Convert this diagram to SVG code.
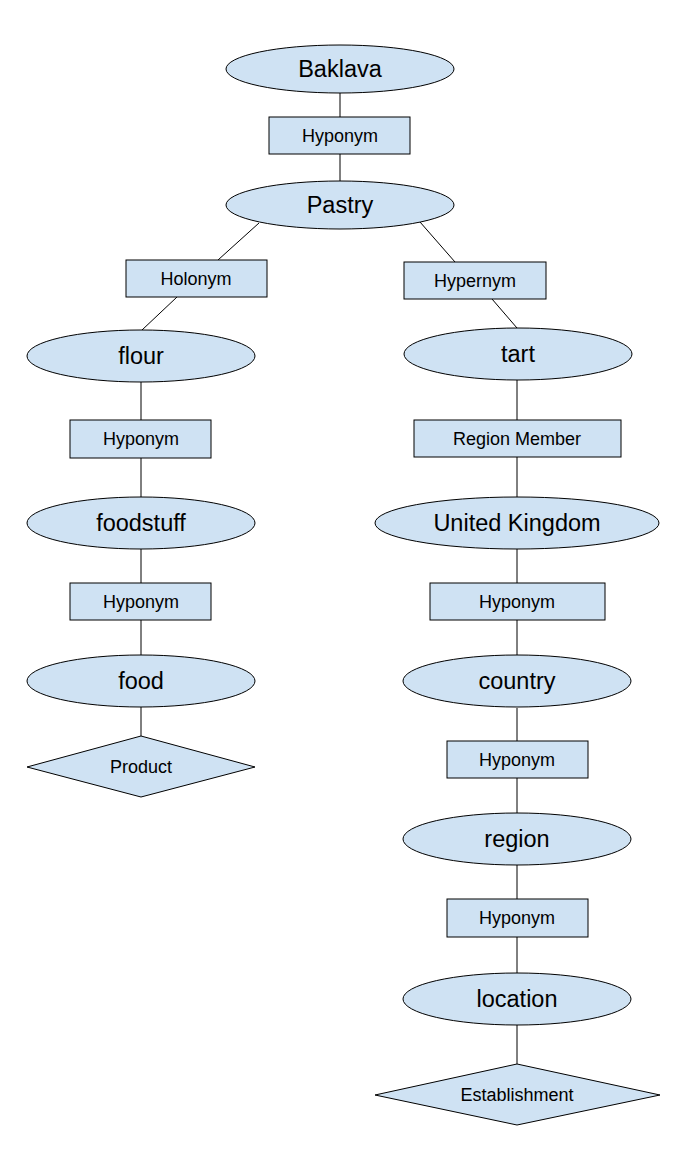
<svg xmlns="http://www.w3.org/2000/svg" width="694" height="1149" viewBox="0 0 694 1149">
<style>
.n{fill:#cfe2f3;stroke:#000;stroke-width:1}
.e{font-family:"Liberation Sans",Arial,sans-serif;font-size:23.5px;fill:#000;text-anchor:middle}
.r{font-family:"Liberation Sans",Arial,sans-serif;font-size:18px;fill:#000;text-anchor:middle}
.c line{stroke:#000;stroke-width:1}
</style>
<rect width="694" height="1149" fill="#fff"/>
<g class="c" id="connectors">
<line x1="340" y1="93" x2="340" y2="117"/>
<line x1="340" y1="154" x2="340" y2="181"/>
<line x1="259" y1="223" x2="218" y2="260"/>
<line x1="177" y1="297" x2="142" y2="330"/>
<line x1="420" y1="222" x2="455" y2="262"/>
<line x1="492" y1="299" x2="517" y2="328"/>
<line x1="141" y1="382" x2="141" y2="420"/>
<line x1="141" y1="458" x2="141" y2="497"/>
<line x1="141" y1="549" x2="141" y2="583"/>
<line x1="141" y1="620" x2="141" y2="655"/>
<line x1="141" y1="707" x2="141" y2="736"/>
<line x1="517" y1="380" x2="517" y2="420"/>
<line x1="517" y1="457" x2="517" y2="497"/>
<line x1="517" y1="549" x2="517" y2="583"/>
<line x1="517" y1="620" x2="517" y2="655"/>
<line x1="517" y1="708" x2="517" y2="741"/>
<line x1="517" y1="778" x2="517" y2="813"/>
<line x1="517" y1="865" x2="517" y2="899"/>
<line x1="517" y1="937" x2="517" y2="973"/>
<line x1="517" y1="1025" x2="517" y2="1064"/>
</g>
<g id="baklava"><ellipse class="n" cx="340" cy="69" rx="114" ry="24"/><text class="e" x="340" y="77">Baklava</text></g>
<g id="rel-hyponym-1"><rect class="n" x="269" y="117" width="141" height="37"/><text class="r" x="340" y="142">Hyponym</text></g>
<g id="pastry"><ellipse class="n" cx="340" cy="205" rx="114" ry="24"/><text class="e" x="340" y="213">Pastry</text></g>
<g id="rel-holonym"><rect class="n" x="126" y="260" width="141" height="37"/><text class="r" x="196" y="285">Holonym</text></g>
<g id="rel-hypernym"><rect class="n" x="404" y="262" width="142" height="37"/><text class="r" x="475" y="287">Hypernym</text></g>
<g id="flour"><ellipse class="n" cx="141" cy="356" rx="114" ry="26"/><text class="e" x="141" y="364">flour</text></g>
<g id="tart"><ellipse class="n" cx="518" cy="354" rx="114" ry="26"/><text class="e" x="518" y="362">tart</text></g>
<g id="rel-hyponym-2"><rect class="n" x="70" y="420" width="141" height="38"/><text class="r" x="141" y="445">Hyponym</text></g>
<g id="foodstuff"><ellipse class="n" cx="141" cy="523" rx="114" ry="26"/><text class="e" x="141" y="531">foodstuff</text></g>
<g id="rel-hyponym-3"><rect class="n" x="70" y="583" width="141" height="37"/><text class="r" x="141" y="608">Hyponym</text></g>
<g id="food"><ellipse class="n" cx="141" cy="681" rx="114" ry="26"/><text class="e" x="141" y="689">food</text></g>
<g id="product"><polygon class="n" points="141,736 255,767 141,797 27,767"/><text class="r" x="141" y="773">Product</text></g>
<g id="rel-region-member"><rect class="n" x="414" y="420" width="207" height="37"/><text class="r" x="517" y="445">Region Member</text></g>
<g id="united-kingdom"><ellipse class="n" cx="517" cy="523" rx="142" ry="26"/><text class="e" x="517" y="531">United Kingdom</text></g>
<g id="rel-hyponym-4"><rect class="n" x="430" y="583" width="175" height="37"/><text class="r" x="517" y="608">Hyponym</text></g>
<g id="country"><ellipse class="n" cx="517" cy="681" rx="114" ry="26"/><text class="e" x="517" y="689">country</text></g>
<g id="rel-hyponym-5"><rect class="n" x="447" y="741" width="141" height="37"/><text class="r" x="517" y="766">Hyponym</text></g>
<g id="region"><ellipse class="n" cx="517" cy="839" rx="114" ry="26"/><text class="e" x="517" y="847">region</text></g>
<g id="rel-hyponym-6"><rect class="n" x="447" y="899" width="141" height="38"/><text class="r" x="517" y="924">Hyponym</text></g>
<g id="location"><ellipse class="n" cx="517" cy="999" rx="114" ry="26"/><text class="e" x="517" y="1007">location</text></g>
<g id="establishment"><polygon class="n" points="517,1064 660,1095 517,1125 375,1095"/><text class="r" x="517" y="1101">Establishment</text></g>
</svg>
